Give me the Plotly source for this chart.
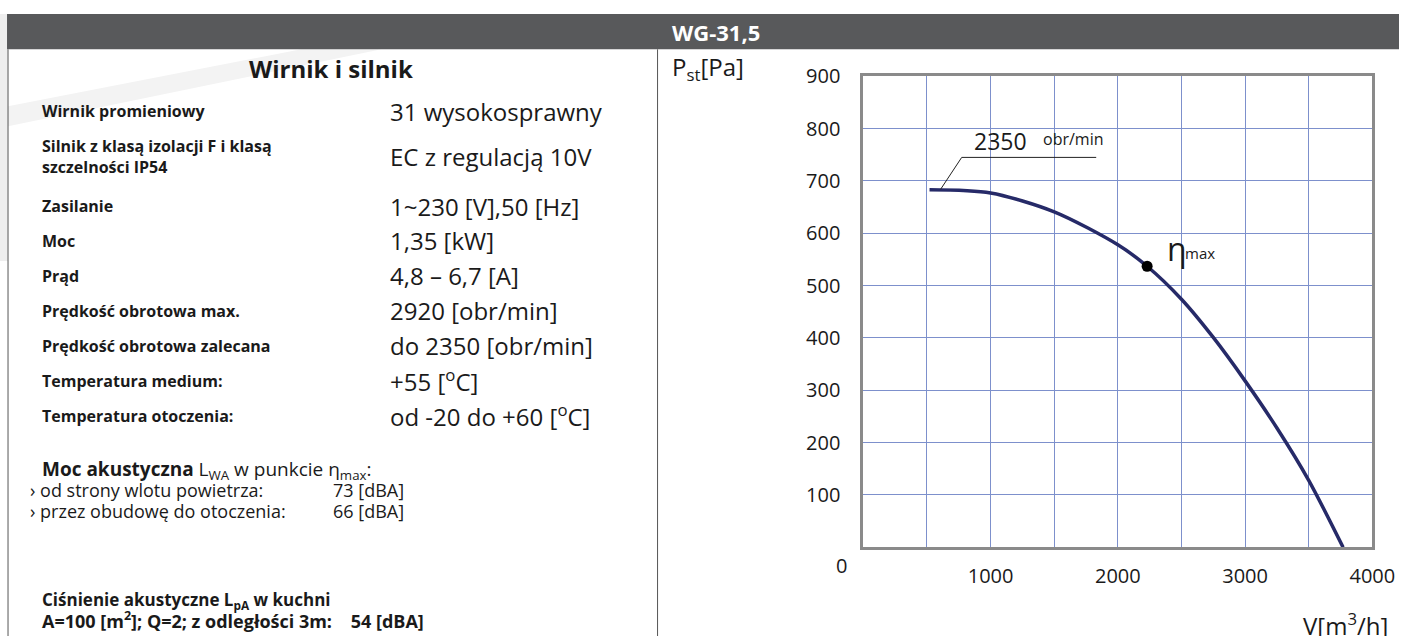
import plotly.graph_objects as go

W, H = 1422, 636
# the screenshot shows the page shrunk to 98% and pushed 12.6px down,
# so positions below are given in picture pixels and converted back
S, TOP = 0.98, 12.6

# fan curve WG-31,5 @ 2350 obr/min
flow = [520, 1000, 1500, 2000, 2230, 2500, 2750, 3000, 3250, 3500, 3770]
pressure = [683, 677, 641, 578, 537, 474, 401, 318, 228, 128, 0]
eta_flow = [2230]
eta_pressure = [537]

x_ticks = [1000, 2000, 3000, 4000]
y_ticks = [100, 200, 300, 400, 500, 600, 700, 800, 900]

table_labels = ["Wirnik promieniowy", "Silnik z klasą izolacji F i klasą<br>szczelności IP54", "Zasilanie", "Moc",
                "Prąd", "Prędkość obrotowa max.", "Prędkość obrotowa zalecana", "Temperatura medium:",
                "Temperatura otoczenia:"]
table_values = ["31 wysokosprawny", "EC z regulacją 10V", "1~230 [V],50 [Hz]", "1,35 [kW]", "4,8 – 6,7 [A]",
                "2920 [obr/min]", "do 2350 [obr/min]", "+55 [<sup>o</sup>C]", "od -20 do +60 [<sup>o</sup>C]"]
row_y = [110, 155, 205, 240, 275, 310, 345, 380, 415]

FONT = "Open Sans"
DARK = "#1a1a1a"


def gx(x):
    return (x / S) / W


def gy(y):
    return 1 - ((y - TOP) / S) / H


fig = go.Figure()
fig.add_trace(go.Scatter(x=flow, y=pressure, mode="lines",
                         line=dict(color="#262a68", width=3.5, shape="spline", smoothing=0.8),
                         hoverinfo="skip", showlegend=False))
fig.add_trace(go.Scatter(x=eta_flow, y=eta_pressure, mode="markers", marker=dict(color="black", size=11),
                         hoverinfo="skip", showlegend=False))

shapes = []
# light background swoosh
shapes.append(dict(type="rect", xref="paper", yref="paper", layer="below", x0=0, x1=gx(8), y0=gy(260), y1=1,
                   fillcolor="#eeeeee", line=dict(width=0)))
shapes.append(dict(type="path", xref="paper", yref="paper", layer="below",
                   path=f"M {gx(8)} {gy(125)} L {gx(380)} {gy(48)} L {gx(300)} {gy(48)} L {gx(8)} {gy(105)} Z",
                   fillcolor="#f3f3f3", line=dict(width=0)))
# header bar
shapes.append(dict(type="rect", xref="paper", yref="paper", x0=gx(7), x1=1, y0=gy(48), y1=1,
                   fillcolor="#58595b", line=dict(width=0)))
# table frame lines
for xl in [8, 655]:
    shapes.append(dict(type="line", xref="paper", yref="paper", x0=gx(xl), x1=gx(xl), y0=0, y1=gy(48),
                       line=dict(color="#555555", width=1)))
# leader line for speed label
shapes.append(dict(type="line", xref="x", yref="y", x0=607, y0=684, x1=773, y1=745,
                   line=dict(color="#222222", width=1)))
shapes.append(dict(type="line", xref="x", yref="y", x0=773, y0=745, x1=1830, y1=745,
                   line=dict(color="#222222", width=1)))

ann = []


def txt(x, y, s, size=17, anchor="left", color=DARK):
    ann.append(dict(x=gx(x), y=gy(y), xref="paper", yref="paper", text=s, showarrow=False, xanchor=anchor,
                    yanchor="middle", font=dict(family=FONT, size=size, color=color), align="left"))


txt(667, 31, "<b>WG-31,5</b>", 22, color="white")
txt(330, 67, "<b>Wirnik i silnik</b>", 24, "center")
for lab, val, y in zip(table_labels, table_values, row_y):
    txt(40, y, f"<b>{lab}</b>", 16)
    txt(386, y, val, 24)

txt(40, 470, "<b>Moc akustyczna</b> L<sub>WA</sub> w punkcie η<sub>max</sub>:", 19)
txt(28, 490, "› od strony wlotu powietrza:", 18)
txt(330, 490, "73 [dBA]", 18)
txt(28, 511, "› przez obudowę do otoczenia:", 18)
txt(330, 511, "66 [dBA]", 18)
txt(40, 600, "<b>Ciśnienie akustyczne L<sub>pA</sub> w kuchni</b>", 17)
txt(40, 620, "<b>A=100 [m<sup>2</sup>]; Q=2; z odległości 3m:\u00a0\u00a0\u00a0\u00a054 [dBA]</b>", 18)

# chart texts
txt(667, 67, "P<sub>st</sub>[Pa]", 24)
txt(1296, 624, "V[m<sup>3</sup>/h]", 24)
txt(838, 565, "0", 20, "center")
ann.append(dict(x=852, y=776, xref="x", yref="y", text="2350", showarrow=False, xanchor="left",
                yanchor="middle", font=dict(family=FONT, size=23, color=DARK)))
ann.append(dict(x=1400, y=780, xref="x", yref="y", text="obr/min", showarrow=False, xanchor="left",
                yanchor="middle", font=dict(family=FONT, size=16, color=DARK)))
ann.append(dict(x=2367, y=571, xref="x", yref="y", text="η", showarrow=False, xanchor="left",
                yanchor="middle", font=dict(family=FONT, size=32, color=DARK)))
ann.append(dict(x=2509, y=563, xref="x", yref="y", text="max", showarrow=False, xanchor="left",
                yanchor="middle", font=dict(family=FONT, size=15, color=DARK)))

grid = "#7d90cc"
fig.update_layout(
    width=W, height=H, margin=dict(l=0, r=0, t=0, b=0),
    paper_bgcolor="white", plot_bgcolor="white",
    shapes=shapes, annotations=ann,
    xaxis=dict(domain=[gx(860), gx(1367)], range=[0, 4000], tickvals=x_ticks, showgrid=True, gridcolor=grid,
               gridwidth=1, minor=dict(dtick=500, showgrid=True, gridcolor=grid, gridwidth=1),
               showline=True, linecolor="#8a8a8a", linewidth=3, mirror=True, zeroline=False,
               tickfont=dict(family=FONT, size=20, color=DARK), ticks="", ticklabelstandoff=9),
    yaxis=dict(domain=[gy(547), gy(75)], range=[0, 900], tickvals=y_ticks, showgrid=True, gridcolor=grid,
               gridwidth=1, showline=True, linecolor="#8a8a8a", linewidth=3, mirror=True, zeroline=False,
               tickfont=dict(family=FONT, size=20, color=DARK), ticks="", ticklabelstandoff=16),
    font=dict(family=FONT),
)

# pin the plot to the window corner so the page is exactly the window size
pin = ("var d=document.getElementById('{plot_id}');d.style.position='fixed';d.style.left='0px';"
       "d.style.top='0px';document.body.style.margin='0px';document.documentElement.style.overflow='hidden';")
fig.write_html("out.html", config={"displayModeBar": False}, post_script=pin)
